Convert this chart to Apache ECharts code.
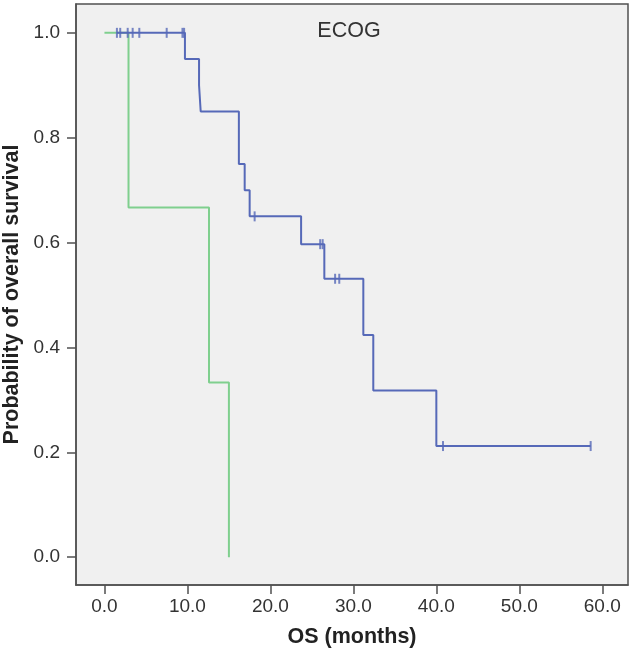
<!DOCTYPE html>
<html>
<head>
<meta charset="utf-8">
<script src="https://cdn.jsdelivr.net/npm/echarts@6/dist/echarts.min.js"></script>
<style>
html,body{margin:0;padding:0;background:#fff;}
#chart{width:634px;height:656px;}
</style>
</head>
<body>
<div id="chart"></div>
<script>
// Kaplan-Meier curve for ECOG group A (blue): step times and survival after each step
var blueTimes = [1.5, 9.7, 11.4, 11.6, 16.2, 16.9, 17.5, 23.7, 26.5, 31.2, 32.4, 40.0, 58.6];
var blueSurv  = [1.0, 0.95, 0.90, 0.85, 0.75, 0.70, 0.65, 0.597, 0.531, 0.424, 0.318, 0.212, 0.212];
// censored observations (blue)
var blueCensorTimes = [1.5, 1.9, 2.8, 3.4, 4.2, 7.5, 9.4, 9.6, 18.1, 26.0, 26.3, 27.8, 28.3, 40.8, 58.6];
var blueCensorSurv  = [1, 1, 1, 1, 1, 1, 1, 1, 0.65, 0.597, 0.597, 0.531, 0.531, 0.212, 0.212];
// Kaplan-Meier curve for ECOG group B (green)
var greenTimes = [0, 2.9, 12.6, 15.0];
var greenSurv  = [1.0, 0.667, 0.333, 0.0];
// tick labels
var xTicks = [0, 10, 20, 30, 40, 50, 60];
var yTicks = [0, 0.2, 0.4, 0.6, 0.8, 1.0];

var blueColor = '#5669b8';
var greenColor = '#7fcf8e';
var frameColor = '#505050';
var font = 'Liberation Sans, Arial, Helvetica, sans-serif';

function zip(a, b) { return a.map(function (v, i) { return [v, b[i]]; }); }

var chart = echarts.init(document.getElementById('chart'), null, {renderer: 'canvas'});
chart.setOption({
  animation: false,
  backgroundColor: '#ffffff',
  title: {
    text: 'ECOG',
    left: 344, top: 15, textAlign: 'center',
    textStyle: {fontFamily: font, fontSize: 21.5, fontWeight: 'normal', color: '#333'}
  },
  grid: {
    left: 76, top: 4, width: 552, height: 581,
    outerBoundsMode: 'none', containLabel: false,
    show: true, backgroundColor: '#f0f0f0', borderColor: frameColor, borderWidth: 1.5
  },
  xAxis: {
    type: 'value', min: -3.43, max: 63.1,
    name: 'OS (months)', nameLocation: 'middle', nameGap: 41,
    nameTextStyle: {fontFamily: font, fontSize: 21.5, fontWeight: 'bold', color: '#222'},
    axisLine: {show: true, onZero: false, lineStyle: {color: frameColor, width: 1.5}},
    axisTick: {show: true, length: 9, customValues: xTicks, lineStyle: {color: frameColor, width: 1.5}},
    axisLabel: {customValues: xTicks, margin: 12, fontFamily: font, fontSize: 19, color: '#333',
      formatter: function (v) { return v.toFixed(1); }},
    splitLine: {show: false}
  },
  yAxis: {
    type: 'value', min: -0.053, max: 1.055,
    name: 'Probability of overall survival', nameLocation: 'middle', nameGap: 51,
    nameTextStyle: {fontFamily: font, fontSize: 21.5, fontWeight: 'bold', color: '#222'},
    axisLine: {show: true, onZero: false, lineStyle: {color: frameColor, width: 1.5}},
    axisTick: {show: true, length: 9, customValues: yTicks, lineStyle: {color: frameColor, width: 1.5}},
    axisLabel: {customValues: yTicks, margin: 16, fontFamily: font, fontSize: 19, color: '#333',
      formatter: function (v) { return v.toFixed(1); }},
    splitLine: {show: false}
  },
  series: [
    {
      type: 'line', step: 'end', data: zip(greenTimes, greenSurv),
      symbol: 'none', lineStyle: {color: greenColor, width: 2}, z: 2
    },
    {
      type: 'line', step: 'end', data: zip(blueTimes, blueSurv),
      symbol: 'none', lineStyle: {color: blueColor, width: 2}, z: 3
    },
    {
      type: 'scatter', data: zip(blueCensorTimes, blueCensorSurv),
      symbol: 'rect', symbolSize: [2, 10],
      itemStyle: {color: blueColor}, z: 4
    }
  ]
});
</script>
</body>
</html>
